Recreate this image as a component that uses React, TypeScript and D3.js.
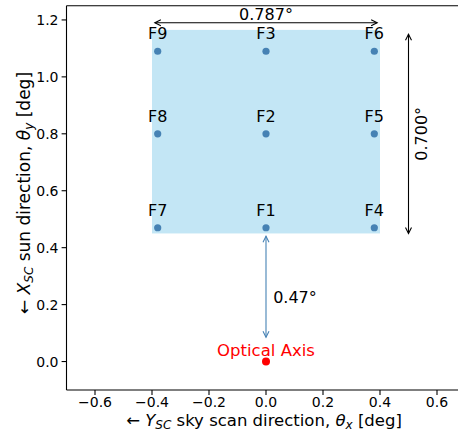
import * as d3 from "d3";

// field positions (deg)
const fieldNames = ["F7", "F1", "F4", "F8", "F2", "F5", "F9", "F3", "F6"];
const fieldX = [-0.38, 0, 0.38, -0.38, 0, 0.38, -0.38, 0, 0.38];
const fieldY = [0.47, 0.47, 0.47, 0.8, 0.8, 0.8, 1.09, 1.09, 1.09];

// field of view box
const boxX = [-0.4, 0.4];
const boxY = [0.45, 1.165];

const xTicks = [-0.6, -0.4, -0.2, 0, 0.2, 0.4, 0.6];
const yTicks = [0, 0.2, 0.4, 0.6, 0.8, 1.0, 1.2];

const W = 458;
const H = 432;
const FONT = "DejaVu Sans, sans-serif";

function Arrow({ x1, y1, x2, y2, color }: { x1: number; y1: number; x2: number; y2: number; color: string }) {
  // double headed open arrow "<->"
  const ang = Math.atan2(y2 - y1, x2 - x1);
  const hl = 6;
  const hw = 3;
  const head = (px: number, py: number, a: number) => {
    const bx = px - hl * Math.cos(a);
    const by = py - hl * Math.sin(a);
    const nx = -Math.sin(a) * hw;
    const ny = Math.cos(a) * hw;
    return `M${bx + nx},${by + ny}L${px},${py}L${bx - nx},${by - ny}`;
  };
  return (
    <g stroke={color} strokeWidth={1.1} fill="none">
      <line x1={x1} y1={y1} x2={x2} y2={y2} />
      <path d={head(x2, y2, ang)} />
      <path d={head(x1, y1, ang + Math.PI)} />
    </g>
  );
}

export default function App() {
  const x = d3.scaleLinear().domain([-0.7, 0.7]).range([66.5, 465.5]);
  const y = d3.scaleLinear().domain([-0.1, 1.25]).range([390, 5.7]);
  const fmt = d3.format(".1f");
  const lab = (v: number) => fmt(v).replace("-", "\u2212");

  return (
    <svg
      width={W}
      height={H}
      style={{ position: "fixed", left: 0, top: 0, background: "#fff" }}
      fontFamily={FONT}
    >
      {/* FOV box */}
      <rect
        x={x(boxX[0])}
        y={y(boxY[1])}
        width={x(boxX[1]) - x(boxX[0])}
        height={y(boxY[0]) - y(boxY[1])}
        fill="#87ceeb"
        fillOpacity={0.5}
      />

      {/* fields */}
      {fieldNames.map((n, i) => (
        <g key={n}>
          <circle cx={x(fieldX[i])} cy={y(fieldY[i])} r={3.6} fill="#4682b4" />
          <text x={x(fieldX[i])} y={y(fieldY[i]) - 12} textAnchor="middle" fontSize={16}>
            {n}
          </text>
        </g>
      ))}

      {/* optical axis */}
      <circle cx={x(0)} cy={y(0)} r={4} fill="red" />
      <text x={x(0)} y={y(0) - 6} textAnchor="middle" fontSize={16.5} fill="red">
        Optical Axis
      </text>

      {/* dimension arrows */}
      <Arrow x1={x(-0.39)} y1={y(1.19)} x2={x(0.39)} y2={y(1.19)} color="#000" />
      <text x={x(0)} y={y(1.19) - 3} textAnchor="middle" fontSize={16}>
        0.787°
      </text>

      <Arrow x1={x(0.5)} y1={y(1.15)} x2={x(0.5)} y2={y(0.45)} color="#000" />
      <text
        transform={`translate(${x(0.5) + 18},${y(0.8)}) rotate(-90)`}
        textAnchor="middle"
        fontSize={16}
      >
        0.700°
      </text>

      <Arrow x1={x(0)} y1={y(0.44)} x2={x(0)} y2={y(0.085)} color="#4682b4" />
      <text x={x(0.025)} y={y(0.226) + 6} fontSize={16}>
        0.47°
      </text>

      {/* spines */}
      <g stroke="#000" strokeWidth={1.1} fill="none">
        <line x1={x(-0.7)} y1={y(-0.1)} x2={W} y2={y(-0.1)} />
        <line x1={x(-0.7)} y1={y(1.25)} x2={W} y2={y(1.25)} />
        <line x1={x(-0.7)} y1={y(-0.1)} x2={x(-0.7)} y2={y(1.25)} />
      </g>

      {/* x ticks */}
      {xTicks.map((t) => (
        <g key={"x" + t}>
          <line x1={x(t)} x2={x(t)} y1={y(-0.1)} y2={y(-0.1) + 4.9} stroke="#000" strokeWidth={1.1} />
          <text x={x(t)} y={y(-0.1) + 17} textAnchor="middle" fontSize={14}>
            {lab(t)}
          </text>
        </g>
      ))}

      {/* y ticks */}
      {yTicks.map((t) => (
        <g key={"y" + t}>
          <line x1={x(-0.7)} x2={x(-0.7) - 4.9} y1={y(t)} y2={y(t)} stroke="#000" strokeWidth={1.1} />
          <text x={x(-0.7) - 8} y={y(t) + 5} textAnchor="end" fontSize={14}>
            {lab(t)}
          </text>
        </g>
      ))}

      {/* axis labels */}
      <text x={264} y={426} textAnchor="middle" fontSize={16.5}>
        ←{" "}
        <tspan fontStyle="italic">Y</tspan>
        <tspan fontStyle="italic" fontSize={12} dy={3}>SC</tspan>
        <tspan dy={-3}> sky scan direction, </tspan>
        <tspan fontStyle="italic">θ</tspan>
        <tspan fontStyle="italic" fontSize={12} dy={3}>x</tspan>
        <tspan dy={-3}> [deg]</tspan>
      </text>
      <text transform="translate(30,193) rotate(-90)" textAnchor="middle" fontSize={17}>
        ←{" "}
        <tspan fontStyle="italic">X</tspan>
        <tspan fontStyle="italic" fontSize={12} dy={3}>SC</tspan>
        <tspan dy={-3}> sun direction, </tspan>
        <tspan fontStyle="italic">θ</tspan>
        <tspan fontStyle="italic" fontSize={12} dy={3}>y</tspan>
        <tspan dy={-3}> [deg]</tspan>
      </text>
    </svg>
  );
}
